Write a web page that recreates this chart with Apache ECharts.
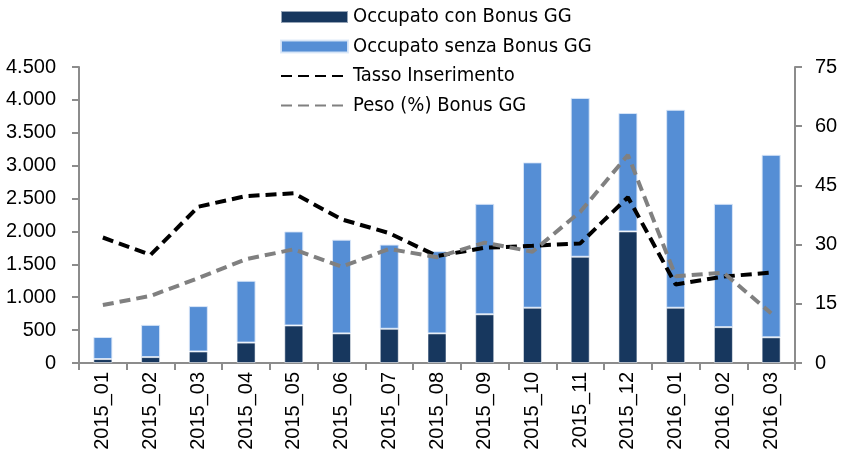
<!DOCTYPE html>
<html>
<head>
<meta charset="utf-8">
<script src="https://cdn.jsdelivr.net/npm/echarts@6/dist/echarts.min.js"></script>
<style>
  html, body { margin: 0; padding: 0; background: #fff; }
  #chart { width: 843px; height: 462px; }
</style>
</head>
<body>
<div id="chart"></div>
<script>
// Monthly categories
const months = ['2015_01','2015_02','2015_03','2015_04','2015_05','2015_06','2015_07','2015_08',
                '2015_09','2015_10','2015_11','2015_12','2016_01','2016_02','2016_03'];
// Employed with / without the GG bonus (left axis, counts)
const occupatoCon   = [60, 90, 175, 310, 570, 450, 520, 450, 740, 840, 1615, 2000, 840, 545, 390];
const occupatoSenza = [335, 490, 690, 940, 1430, 1425, 1280, 1250, 1680, 2210, 2415, 1800, 3010, 1875, 2775];
// Rates on the right axis (%)
const tassoInserimento = [31.8, 27.4, 39.6, 42.3, 43.0, 36.4, 32.9, 27.1, 29.2, 29.7, 30.3, 42.0, 19.9, 21.9, 22.9];
const pesoBonus        = [14.7, 17.0, 21.5, 26.3, 28.8, 24.4, 28.9, 26.8, 30.5, 28.2, 38.3, 52.7, 22.0, 22.9, 12.6];

const axisFont = 'Liberation Sans, Arial, sans-serif';
const legendFont = 'DejaVu Sans Condensed, DejaVu Sans, sans-serif';
const axisColor = '#8c8c8c';

const chart = echarts.init(document.getElementById('chart'), null, { renderer: 'canvas' });

const fmtThousands = v => String(v).replace(/\B(?=(\d{3})+(?!\d))/g, '.');

chart.setOption({
  animation: false,
  backgroundColor: '#ffffff',
  legend: {
    orient: 'vertical',
    left: 280,
    top: 7,
    padding: 0,
    itemWidth: 67,
    itemHeight: 12,
    itemGap: 9.5,
    textStyle: { fontFamily: legendFont, fontSize: 20, color: '#000' },
    data: [
      { name: 'Occupato con Bonus GG', icon: 'rect' },
      { name: 'Occupato senza Bonus GG', icon: 'rect' },
      { name: 'Tasso Inserimento', itemStyle: { opacity: 0 } },
      { name: 'Peso (%) Bonus GG', itemStyle: { opacity: 0 } }
    ]
  },
  grid: { left: 79, right: 48, top: 67, bottom: 99 },
  xAxis: {
    type: 'category',
    data: months,
    boundaryGap: true,
    axisLine: { lineStyle: { color: axisColor, width: 2 } },
    axisTick: { show: true, interval: 0, alignWithLabel: false, length: 7, lineStyle: { color: axisColor, width: 2 } },
    axisLabel: { rotate: 90, interval: 0, margin: 9, fontFamily: axisFont, fontSize: 20, color: '#000' }
  },
  yAxis: [
    {
      type: 'value', min: 0, max: 4500, interval: 500,
      axisLine: { show: true, lineStyle: { color: axisColor, width: 2 } },
      axisTick: { show: true, length: 7, lineStyle: { color: axisColor, width: 2 } },
      splitLine: { show: false },
      axisLabel: { margin: 23, fontFamily: axisFont, fontSize: 20, color: '#000', formatter: fmtThousands }
    },
    {
      type: 'value', min: 0, max: 75, interval: 15, position: 'right',
      axisLine: { show: true, lineStyle: { color: axisColor, width: 2 } },
      axisTick: { show: true, length: 7, lineStyle: { color: axisColor, width: 2 } },
      splitLine: { show: false },
      axisLabel: { margin: 20, fontFamily: axisFont, fontSize: 20, color: '#000' }
    }
  ],
  series: [
    {
      name: 'Occupato con Bonus GG', type: 'bar', stack: 'occ', data: occupatoCon,
      barWidth: 19,
      itemStyle: { color: '#17375e', borderColor: 'rgba(255,255,255,0.55)', borderWidth: 1 }
    },
    {
      name: 'Occupato senza Bonus GG', type: 'bar', stack: 'occ', data: occupatoSenza,
      barWidth: 19,
      itemStyle: { color: '#558ed5', borderColor: 'rgba(220,232,248,0.9)', borderWidth: 1 }
    },
    {
      name: 'Tasso Inserimento', type: 'line', yAxisIndex: 1, data: tassoInserimento,
      symbol: 'none', z: 3,
      lineStyle: { color: '#000', width: 4, type: [11, 6] },
      itemStyle: { color: '#000' }
    },
    {
      name: 'Peso (%) Bonus GG', type: 'line', yAxisIndex: 1, data: pesoBonus,
      symbol: 'none', z: 4,
      lineStyle: { color: '#808080', width: 4, type: [11, 6] },
      itemStyle: { color: '#808080' }
    }
  ]
});
</script>
</body>
</html>
